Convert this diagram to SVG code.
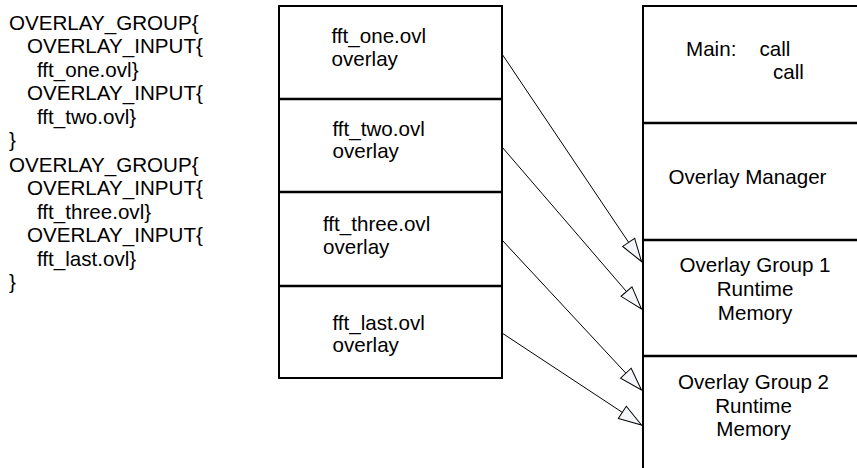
<svg xmlns="http://www.w3.org/2000/svg" width="857" height="468" viewBox="0 0 857 468">
<defs>
<style>
text{font-family:"Liberation Sans",Arial,Helvetica,sans-serif;font-size:20.6px;fill:#000}
.box{fill:#fff;stroke:#000;stroke-width:2}
.div{stroke:#000;stroke-width:2.5}
.conn{stroke:#000;stroke-width:1;fill:none;marker-end:url(#ah)}
.c{text-anchor:middle}
</style>
<marker id="ah" markerUnits="userSpaceOnUse" markerWidth="24" markerHeight="16" refX="23" refY="7.25" orient="auto" overflow="visible">
<path d="M0,0 L23,7.25 L0,14.5 Z" fill="#f4f6fa" stroke="#000" stroke-width="1"/>
</marker>
</defs>
<rect width="857" height="468" fill="#fff"/>
<g id="code">
<text x="9" y="29.5">OVERLAY_GROUP{</text>
<text x="27" y="53">OVERLAY_INPUT{</text>
<text x="37" y="76.5">fft_one.ovl}</text>
<text x="27" y="100">OVERLAY_INPUT{</text>
<text x="37" y="123.5">fft_two.ovl}</text>
<text x="9" y="147">}</text>
<text x="9" y="171.5">OVERLAY_GROUP{</text>
<text x="27" y="195">OVERLAY_INPUT{</text>
<text x="37" y="218.5">fft_three.ovl}</text>
<text x="27" y="242">OVERLAY_INPUT{</text>
<text x="37" y="265.5">fft_last.ovl}</text>
<text x="9" y="289">}</text>
</g>
<g id="overlays">
<rect class="box" x="279" y="6" width="223" height="372"/>
<line class="div" x1="279" y1="99" x2="502" y2="99"/>
<line class="div" x1="279" y1="192" x2="502" y2="192"/>
<line class="div" x1="279" y1="286" x2="502" y2="286"/>
</g>
<g id="fft_one"><text x="331.5" y="43">fft_one.ovl</text><text x="331.5" y="65.5">overlay</text></g>
<g id="fft_two"><text x="332.5" y="135.5">fft_two.ovl</text><text x="332.5" y="158">overlay</text></g>
<g id="fft_three"><text x="323" y="231">fft_three.ovl</text><text x="323" y="253.5">overlay</text></g>
<g id="fft_last"><text x="332.5" y="329.5">fft_last.ovl</text><text x="332.5" y="352">overlay</text></g>
<g id="memory">
<rect class="box" x="643" y="6" width="230" height="480"/>
<line class="div" x1="643" y1="123" x2="857" y2="123"/>
<line class="div" x1="643" y1="240" x2="857" y2="240"/>
<line class="div" x1="643" y1="356" x2="857" y2="356"/>
</g>
<g id="main"><text x="686" y="56">Main:</text><text x="759.5" y="56">call</text><text x="773" y="78.5">call</text></g>
<g id="manager"><text x="668.5" y="183.5">Overlay Manager</text></g>
<g id="group1"><text class="c" x="755" y="272">Overlay Group 1</text><text class="c" x="755" y="296">Runtime</text><text class="c" x="755" y="319.5">Memory</text></g>
<g id="group2"><text class="c" x="753.5" y="388.5">Overlay Group 2</text><text class="c" x="753.5" y="412.5">Runtime</text><text class="c" x="753.5" y="436">Memory</text></g>
<g id="connectors">
<line class="conn" x1="502" y1="54" x2="641.5" y2="261.5"/>
<line class="conn" x1="502" y1="147" x2="641.5" y2="309"/>
<line class="conn" x1="502" y1="240" x2="641.5" y2="390"/>
<line class="conn" x1="502" y1="333" x2="641.5" y2="425"/>
</g>
</svg>
